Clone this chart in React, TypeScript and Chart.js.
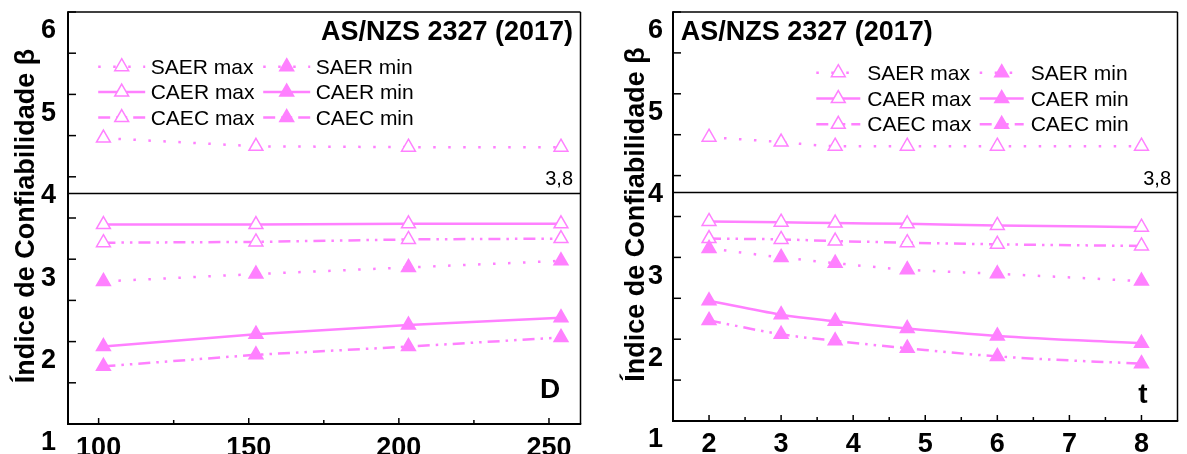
import React, { useEffect, useRef } from 'react';
import { Chart, registerables } from 'chart.js';

Chart.register(...registerables);

const FONT = '"Liberation Sans", Arial, Helvetica, sans-serif';
const PINK = 'rgb(255,128,255)';

// Series names, in legend order (two columns, row by row)
const seriesNames = ['SAER max', 'SAER min', 'CAER max', 'CAER min', 'CAEC max', 'CAEC min'];

// Panel 1: reliability index against diameter D
const diameters = [101.6, 152.4, 203.2, 254];
const dSaerMax = [4.47, 4.37, 4.36, 4.36];
const dSaerMin = [2.73, 2.82, 2.9, 2.98];
const dCaerMax = [3.42, 3.42, 3.43, 3.43];
const dCaerMin = [1.94, 2.09, 2.2, 2.29];
const dCaecMax = [3.2, 3.21, 3.24, 3.25];
const dCaecMin = [1.7, 1.84, 1.94, 2.05];

// Panel 2: reliability index against wall thickness t
const thicknesses = [2, 3, 3.75, 4.75, 6, 8];
const tSaerMax = [4.47, 4.41, 4.36, 4.36, 4.36, 4.36];
const tSaerMin = [3.11, 3.0, 2.93, 2.85, 2.8, 2.71];
const tCaerMax = [3.44, 3.43, 3.42, 3.41, 3.39, 3.37];
const tCaerMin = [2.47, 2.3, 2.22, 2.13, 2.04, 1.95];
const tCaecMax = [3.23, 3.22, 3.2, 3.18, 3.16, 3.14];
const tCaecMin = [2.23, 2.06, 1.98, 1.89, 1.79, 1.7];

// Axis ticks
const yTickMarks = [1, 1.5, 2, 2.5, 3, 3.5, 4, 4.5, 5, 5.5, 6];
const yTickLabels = [1, 2, 3, 4, 5, 6];
const dTickMarks = [100, 125, 150, 175, 200, 225, 250];
const dTickLabels = [100, 150, 200, 250];
const tTickMarks = [2, 2.5, 3, 3.5, 4, 4.5, 5, 5.5, 6, 6.5, 7, 7.5, 8];
const tTickLabels = [2, 3, 4, 5, 6, 7, 8];

// Target reliability
const targetBeta = 3.8;
const targetLabel = '3,8';
const panelTitle = 'AS/NZS 2327 (2017)';
const yTitle = 'Índice de Confiabilidade β';

const DOTTED = [2.5, 12.5];
const DASH_DOT_DOT = [12, 6, 2.5, 6, 2.5, 6];
const seriesStyles = [
  { dash: DOTTED, filled: false },
  { dash: DOTTED, filled: true },
  { dash: [] as number[], filled: false },
  { dash: [] as number[], filled: true },
  { dash: DASH_DOT_DOT, filled: false },
  { dash: DASH_DOT_DOT, filled: true },
];

type PanelSpec = {
  xValues: number[];
  series: number[][];
  xMin: number;
  xMax: number;
  xTickMarks: number[];
  xTickLabels: number[];
  varLabel: string;
  smooth: boolean;
  width: number;
  left: number;
  yAxisWidth: number;
  xAxisHeight: number;
  padTop: number;
  padRight: number;
  yLabelPad: number;
  xLabelPad: number;
  legend: { col1: number; col2: number; y0: number; rowGap: number; half: number; textGap: number };
  title: { x: number; align: CanvasTextAlign };
  yTitleX: number;
  targetLabelX: number;
  varPos: { x: number; y: number };
};

const panels: PanelSpec[] = [
  {
    xValues: diameters,
    series: [dSaerMax, dSaerMin, dCaerMax, dCaerMin, dCaecMax, dCaecMin],
    xMin: 89.8,
    xMax: 260.5,
    xTickMarks: dTickMarks,
    xTickLabels: dTickLabels,
    varLabel: 'D',
    smooth: false,
    width: 590,
    left: 0,
    yAxisWidth: 68,
    xAxisHeight: 30,
    padTop: 12,
    padRight: 9,
    yLabelPad: 12,
    xLabelPad: 8,
    legend: { col1: 121.7, col2: 286.7, y0: 66.7, rowGap: 25.4, half: 23.5, textGap: 29 },
    title: { x: 573, align: 'right' },
    yTitleX: 34,
    targetLabelX: 573,
    varPos: { x: 550, y: 398 },
  },
  {
    xValues: thicknesses,
    series: [tSaerMax, tSaerMin, tCaerMax, tCaerMin, tCaecMax, tCaecMin],
    xMin: 1.5,
    xMax: 8.5,
    xTickMarks: tTickMarks,
    xTickLabels: tTickLabels,
    varLabel: 't',
    smooth: true,
    width: 597,
    left: 590,
    yAxisWidth: 83,
    xAxisHeight: 33,
    padTop: 12,
    padRight: 7,
    yLabelPad: 10,
    xLabelPad: 7.5,
    legend: { col1: 248.3, col2: 411.7, y0: 72.7, rowGap: 25.8, half: 22, textGap: 29 },
    title: { x: 90.7, align: 'left' },
    yTitleX: 54,
    targetLabelX: 581,
    varPos: { x: 553, y: 403 },
  },
];

function triangle(ctx: CanvasRenderingContext2D, x: number, y: number, r: number) {
  ctx.beginPath();
  ctx.moveTo(x, y - r);
  ctx.lineTo(x + r * Math.sin((2 * Math.PI) / 3), y - r * Math.cos((2 * Math.PI) / 3));
  ctx.lineTo(x + r * Math.sin((4 * Math.PI) / 3), y - r * Math.cos((4 * Math.PI) / 3));
  ctx.closePath();
}

function makeDecor(p: PanelSpec) {
  return {
    id: 'panelDecor',
    afterDraw(chart: any) {
      const { ctx, chartArea: a, scales } = chart;
      const xs = scales.x;
      const ys = scales.y;
      const seg = (x1: number, y1: number, x2: number, y2: number) => {
        ctx.beginPath();
        ctx.moveTo(x1, y1);
        ctx.lineTo(x2, y2);
        ctx.stroke();
      };
      ctx.save();
      ctx.strokeStyle = '#000';
      ctx.setLineDash([]);

      // target line
      ctx.lineWidth = 1.5;
      const yRef = Math.round(ys.getPixelForValue(targetBeta)) + 0.5;
      seg(a.left, yRef, a.right, yRef);

      // frame
      seg(a.left, a.top, a.right, a.top);
      seg(a.right, a.top, a.right, a.bottom);
      ctx.lineWidth = 2;
      seg(a.left, a.top - 0.75, a.left, a.bottom + 1);
      seg(a.left - 1, a.bottom, a.right + 0.75, a.bottom);

      // inward tick marks
      ctx.lineWidth = 1.5;
      yTickMarks.forEach((v) => {
        const y = ys.getPixelForValue(v);
        seg(a.left, y, a.left + 8, y);
      });
      p.xTickMarks.forEach((v) => {
        const x = xs.getPixelForValue(v);
        const len = p.xTickLabels.includes(v) ? 6 : 4;
        seg(x, a.bottom, x, a.bottom - len);
      });

      ctx.fillStyle = '#000';
      // panel title
      ctx.font = `bold 27px ${FONT}`;
      ctx.textAlign = p.title.align;
      ctx.textBaseline = 'alphabetic';
      ctx.fillText(panelTitle, p.title.x, 40);

      // target label
      ctx.font = `20px ${FONT}`;
      ctx.textAlign = 'right';
      ctx.fillText(targetLabel, p.targetLabelX, 185);

      // variable label
      ctx.font = `bold 28px ${FONT}`;
      ctx.textAlign = 'center';
      ctx.fillText(p.varLabel, p.varPos.x, p.varPos.y);

      // y axis title
      ctx.save();
      ctx.translate(p.yTitleX, (a.top + a.bottom) / 2 - 2);
      ctx.rotate(-Math.PI / 2);
      ctx.font = `bold 27px ${FONT}`;
      ctx.textAlign = 'center';
      ctx.textBaseline = 'alphabetic';
      ctx.fillText(yTitle, 0, 0);
      ctx.restore();

      // legend
      const L = p.legend;
      chart.data.datasets.forEach((ds: any, i: number) => {
        const row = Math.floor(i / 2);
        const cx = i % 2 === 0 ? L.col1 : L.col2;
        const cy = L.y0 + row * L.rowGap;
        ctx.strokeStyle = ds.borderColor;
        ctx.lineWidth = ds.borderWidth;
        ctx.setLineDash(ds.borderDash || []);
        ctx.lineDashOffset = 0;
        seg(cx - L.half, cy, cx + L.half, cy);
        ctx.setLineDash([]);
        triangle(ctx, cx, cy, ds.pointRadius);
        ctx.fillStyle = ds.pointBackgroundColor;
        ctx.fill();
        ctx.lineWidth = ds.pointBorderWidth;
        ctx.strokeStyle = ds.pointBorderColor;
        ctx.stroke();
        ctx.fillStyle = '#000';
        ctx.font = `21px ${FONT}`;
        ctx.textAlign = 'left';
        ctx.textBaseline = 'alphabetic';
        ctx.fillText(ds.label, cx + L.textGap, cy + 7);
      });
      ctx.restore();
    },
  };
}

function buildConfig(p: PanelSpec): any {
  const datasets = p.series.map((vals, i) => {
    const st = seriesStyles[i];
    const fill = st.filled ? PINK : '#ffffff';
    return {
      label: seriesNames[i],
      data: p.xValues.map((x, k) => ({ x, y: vals[k] })),
      borderColor: PINK,
      backgroundColor: fill,
      borderWidth: 2.5,
      borderDash: st.dash,
      pointStyle: 'triangle',
      pointRadius: 8,
      pointBorderWidth: 1.5,
      pointBackgroundColor: fill,
      pointBorderColor: PINK,
      cubicInterpolationMode: p.smooth ? 'monotone' : 'default',
      tension: 0,
      fill: false,
    };
  });
  return {
    type: 'line',
    data: { datasets },
    options: {
      animation: false,
      responsive: false,
      devicePixelRatio: 1,
      layout: { padding: { top: p.padTop, right: p.padRight, left: 0, bottom: 0 } },
      plugins: { legend: { display: false }, tooltip: { enabled: false } },
      scales: {
        x: {
          type: 'linear',
          min: p.xMin,
          max: p.xMax,
          grid: { display: false, drawTicks: false },
          border: { display: false },
          afterBuildTicks: (s: any) => {
            s.ticks = p.xTickLabels.map((v) => ({ value: v }));
          },
          afterFit: (s: any) => {
            s.height = p.xAxisHeight;
            s.paddingLeft = 0;
            s.paddingRight = 0;
          },
          ticks: {
            autoSkip: false,
            maxRotation: 0,
            padding: p.xLabelPad,
            color: '#000',
            font: { family: FONT, size: 27, weight: 'bold' },
            callback: (v: number) => String(v),
          },
        },
        y: {
          type: 'linear',
          min: 1,
          max: 6,
          grid: { display: false, drawTicks: false },
          border: { display: false },
          afterBuildTicks: (s: any) => {
            s.ticks = yTickLabels.map((v) => ({ value: v }));
          },
          afterFit: (s: any) => {
            s.width = p.yAxisWidth;
            s.paddingTop = 0;
            s.paddingBottom = 0;
          },
          ticks: {
            padding: p.yLabelPad,
            labelOffset: 19,
            color: '#000',
            font: { family: FONT, size: 27, weight: 'bold' },
            callback: (v: number) => String(v),
          },
        },
      },
    },
    plugins: [makeDecor(p)],
  };
}

function Panel({ spec }: { spec: PanelSpec }) {
  const ref = useRef<HTMLCanvasElement | null>(null);
  useEffect(() => {
    if (!ref.current) return;
    const chart = new Chart(ref.current, buildConfig(spec));
    return () => chart.destroy();
  }, [spec]);
  return (
    <canvas
      ref={ref}
      width={spec.width}
      height={454}
      style={{ position: 'absolute', left: spec.left, top: 0, width: spec.width, height: 454 }}
    />
  );
}

export default function App() {
  return (
    <div style={{ position: 'fixed', left: 0, top: 0, width: 1187, height: 454, background: '#fff', overflow: 'hidden' }}>
      {panels.map((p, i) => (
        <Panel key={i} spec={p} />
      ))}
    </div>
  );
}
